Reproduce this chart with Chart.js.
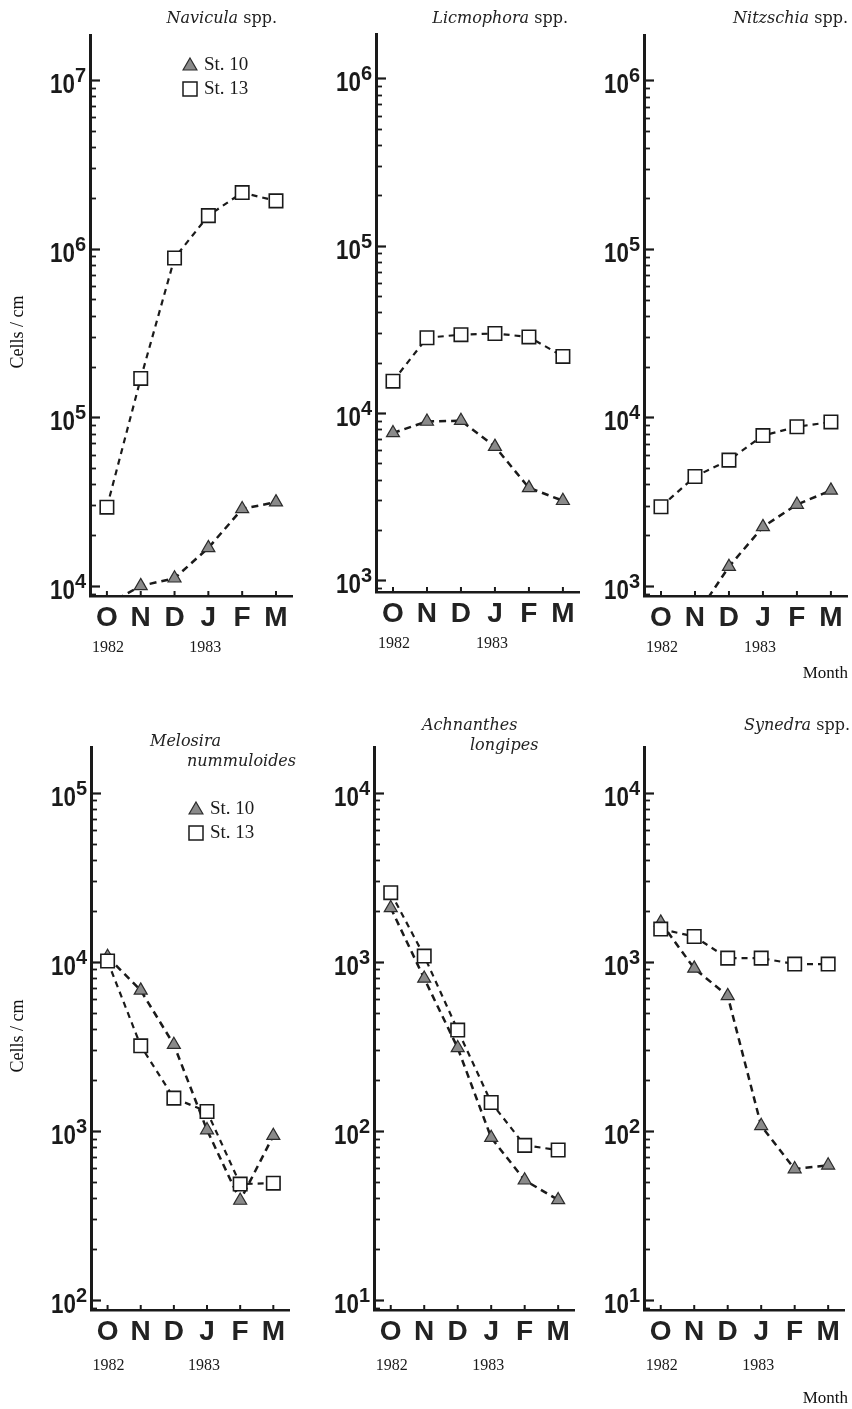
<!DOCTYPE html>
<html>
<head>
<meta charset="utf-8">
<script src="https://cdn.jsdelivr.net/npm/chart.js@4.4.1/dist/chart.umd.min.js"></script>
<style>
  body { margin: 0; background: #fff; width: 852px; height: 1409px; position: relative; overflow: hidden; }
  canvas { position: absolute; }
  .t { position: absolute; font-family: "DejaVu Serif", serif; font-size: 16px; line-height: 1; color: #222; white-space: nowrap; }
  .t i { font-style: italic; }
  .lab { position: absolute; font-family: "Liberation Serif", serif; font-size: 17px; line-height: 1; color: #111; white-space: nowrap; }
  .ylab { width: 120px; font-size: 18px; text-align: center; transform: rotate(-90deg); }
</style>
</head>
<body>
<canvas id="c1"></canvas>
<canvas id="c2"></canvas>
<canvas id="c3"></canvas>
<canvas id="c4"></canvas>
<canvas id="c5"></canvas>
<canvas id="c6"></canvas>

<div class="t" style="right:575px;top:10px"><i>Navicula</i> spp.</div>
<div class="t" style="right:284px;top:10px"><i>Licmophora</i> spp.</div>
<div class="t" style="right:4px;top:10px"><i>Nitzschia</i> spp.</div>
<div class="t" style="left:150px;top:733px"><i>Melosira</i></div>
<div class="t" style="left:187px;top:753px"><i>nummuloides</i></div>
<div class="t" style="left:422px;top:717px"><i>Achnanthes</i></div>
<div class="t" style="left:470px;top:737px"><i>longipes</i></div>
<div class="t" style="right:2px;top:717px"><i>Synedra</i> spp.</div>

<div class="lab ylab" style="left:-43px;top:323px">Cells / cm</div>
<div class="lab ylab" style="left:-43px;top:1027px">Cells / cm</div>
<div class="lab" style="right:4px;top:664px">Month</div>
<div class="lab" style="right:4px;top:1389px">Month</div>

<script>
  var months = ['O', 'N', 'D', 'J', 'F', 'M'];
  var years = ['1982', '1983'];
  var stations = ['St. 10', 'St. 13'];

  // cells / cm, Oct 1982 - Mar 1983
  var naviculaSt10 = [7700, 10000, 11100, 16800, 28600, 31400];
  var naviculaSt13 = [29300, 170000, 880000, 1570000, 2150000, 1920000];

  var licmophoraSt10 = [7600, 8900, 9000, 6300, 3570, 2990];
  var licmophoraSt13 = [15500, 28200, 29400, 29900, 28500, 21800];

  var nitzschiaSt10 = [null, 650, 1300, 2240, 3040, 3690];
  var nitzschiaSt13 = [2950, 4460, 5580, 7800, 8800, 9400];

  var melosiraSt10 = [10700, 6770, 3230, 1010, 387, 935];
  var melosiraSt13 = [10100, 3180, 1560, 1300, 484, 490];

  var achnanthesSt10 = [2080, 796, 309, 91, 51, 39];
  var achnanthesSt13 = [2560, 1080, 394, 147, 82, 77];

  var synedraSt10 = [1710, 913, 628, 107, 59.4, 62.5];
  var synedraSt13 = [1560, 1410, 1050, 1050, 968, 968];

  // log10 range of each panel's y axis
  var axisLow = [3.94, 2.93, 2.94, 1.94, 0.94, 0.94];
  var axisHigh = [7.267, 6.266, 6.27, 5.27, 4.27, 4.27];

  Chart.defaults.font.family = '"Liberation Sans", Arial, sans-serif';
  Chart.defaults.color = '#222';

  var rows = [
    { top: 0, height: 700, areaTop: 35, areaBottom: 596, yearOff: 52 },
    { top: 705, height: 704, areaTop: 747, areaBottom: 1310, yearOff: 56 }
  ];

  var panels = [
    { id: 'c1', row: 0, axisX: 90, plotW: 202, st10: naviculaSt10, st13: naviculaSt13, legend: { dx: 100, dy: 30 } },
    { id: 'c2', row: 0, axisX: 376, plotW: 203, st10: licmophoraSt10, st13: licmophoraSt13, areaTop: 34, areaBottom: 592 },
    { id: 'c3', row: 0, axisX: 644, plotW: 203, st10: nitzschiaSt10, st13: nitzschiaSt13 },
    { id: 'c4', row: 1, axisX: 91, plotW: 198, st10: melosiraSt10, st13: melosiraSt13, legend: { dx: 105, dy: 62 } },
    { id: 'c5', row: 1, axisX: 374, plotW: 200, st10: achnanthesSt10, st13: achnanthesSt13 },
    { id: 'c6', row: 1, axisX: 644, plotW: 200, st10: synedraSt10, st13: synedraSt13 }
  ];

  var INK = '#1a1a1a';
  var TRI_FILL = '#8a8a8a';

  function drawTriangle(ctx, x, y, r) {
    ctx.beginPath();
    ctx.moveTo(x, y - r);
    ctx.lineTo(x + r * 0.866, y + r * 0.5);
    ctx.lineTo(x - r * 0.866, y + r * 0.5);
    ctx.closePath();
    ctx.fillStyle = TRI_FILL;
    ctx.fill();
    ctx.lineWidth = 1.2;
    ctx.strokeStyle = '#2b2b2b';
    ctx.stroke();
  }

  // log ticks pointing inward, 10^n labels, month ticks, years and legend
  var decor = {
    id: 'decor',
    afterDraw: function (chart, args, opts) {
      var ctx = chart.ctx, a = chart.chartArea;
      var x = chart.scales.x, y = chart.scales.y;
      ctx.save();
      ctx.strokeStyle = INK;
      ctx.fillStyle = INK;

      var lo = Math.floor(Math.log10(y.min)), hi = Math.ceil(Math.log10(y.max));
      for (var e = lo; e <= hi; e++) {
        for (var k = 1; k <= 9; k++) {
          var v = k * Math.pow(10, e);
          if (v < y.min || v > y.max) continue;
          var py = Math.round(y.getPixelForValue(v)) + 0.5;
          ctx.lineWidth = k === 1 ? 2.2 : 1.8;
          ctx.beginPath();
          ctx.moveTo(a.left, py);
          ctx.lineTo(a.left + (k === 1 ? 10 : 6), py);
          ctx.stroke();
          if (k === 1) {
            ctx.save();
            ctx.translate(a.left - 15, py + 12);
            ctx.scale(0.8, 1);
            ctx.font = 'bold 28px "Liberation Sans"';
            ctx.textAlign = 'right';
            ctx.textBaseline = 'alphabetic';
            ctx.fillText('10', 0, 0);
            ctx.restore();
            ctx.font = 'bold 20px "Liberation Sans"';
            ctx.textAlign = 'left';
            ctx.textBaseline = 'alphabetic';
            ctx.fillText(String(e), a.left - 15, py + 1);
          }
        }
      }

      ctx.lineWidth = 2;
      for (var i = 0; i < months.length; i++) {
        var px = x.getPixelForValue(i);
        ctx.beginPath();
        ctx.moveTo(px, a.bottom);
        ctx.lineTo(px, a.bottom - 5);
        ctx.stroke();
      }

      ctx.font = '16px "Liberation Serif"';
      ctx.textAlign = 'center';
      ctx.textBaseline = 'middle';
      ctx.fillText(years[0], x.getPixelForValue(0) + 1, a.bottom + opts.yearOff);
      ctx.fillText(years[1], x.getPixelForValue(3) - 3, a.bottom + opts.yearOff);

      if (opts.legend) {
        var lx = a.left + opts.legend.dx, ly = a.top + opts.legend.dy;
        drawTriangle(ctx, lx, ly + 1, 8);
        ctx.fillStyle = '#fff';
        ctx.strokeStyle = INK;
        ctx.lineWidth = 1.5;
        ctx.fillRect(lx - 7, ly + 24 - 7, 14, 14);
        ctx.strokeRect(lx - 7, ly + 24 - 7, 14, 14);
        ctx.fillStyle = INK;
        ctx.font = '19px "Liberation Serif"';
        ctx.textAlign = 'left';
        ctx.textBaseline = 'middle';
        ctx.fillText(stations[0], lx + 14, ly);
        ctx.fillText(stations[1], lx + 14, ly + 24);
      }
      ctx.restore();
    }
  };

  panels.forEach(function (p, idx) {
    var row = rows[p.row];
    var areaTop = p.areaTop || row.areaTop;
    var areaBottom = p.areaBottom || row.areaBottom;
    var canvas = document.getElementById(p.id);
    // the layout keeps 8px on the right beyond the padding
    canvas.width = 86 + p.plotW + 4 + 8;
    canvas.height = row.height;
    canvas.style.left = (p.axisX - 86) + 'px';
    canvas.style.top = row.top + 'px';

    new Chart(canvas.getContext('2d'), {
      type: 'line',
      data: {
        labels: months,
        datasets: [{
          label: stations[0],
          data: p.st10,
          order: 2,
          borderColor: INK,
          borderWidth: 2.5,
          borderDash: [7, 5],
          tension: 0,
          fill: false,
          clip: 0,
          pointStyle: 'triangle',
          pointRadius: 7.5,
          pointBackgroundColor: TRI_FILL,
          pointBorderColor: '#2b2b2b',
          pointBorderWidth: 1.2
        }, {
          label: stations[1],
          data: p.st13,
          order: 1,
          borderColor: INK,
          borderWidth: 2.2,
          borderDash: [6, 5],
          tension: 0,
          fill: false,
          clip: 0,
          pointStyle: 'rect',
          pointRadius: 9.5,
          pointBackgroundColor: '#fff',
          pointBorderColor: INK,
          pointBorderWidth: 1.6
        }]
      },
      options: {
        responsive: false,
        animation: false,
        devicePixelRatio: 1,
        layout: {
          padding: {
            left: 86,
            right: 4,
            top: areaTop - row.top,
            bottom: row.top + row.height - areaBottom - 40
          }
        },
        scales: {
          x: {
            type: 'category',
            offset: true,
            grid: { display: false, drawTicks: false },
            border: { display: true, color: INK, width: 2.5 },
            ticks: {
              autoSkip: false,
              maxRotation: 0,
              padding: 5,
              color: '#222',
              font: { size: 28, weight: 'bold', family: '"Liberation Sans"' }
            },
            afterFit: function (s) {
              s.height = 40;
              s.paddingLeft = 0;
              s.paddingRight = 0;
            }
          },
          y: {
            type: 'logarithmic',
            min: Math.pow(10, axisLow[idx]),
            max: Math.pow(10, axisHigh[idx]),
            grid: { display: false, drawTicks: false },
            border: { display: true, color: INK, width: 3 },
            ticks: { display: false },
            afterFit: function (s) {
              s.width = 0;
              s.paddingTop = 0;
              s.paddingBottom = 0;
            }
          }
        },
        plugins: {
          legend: { display: false },
          tooltip: { enabled: false },
          decor: { yearOff: row.yearOff, legend: p.legend }
        }
      },
      plugins: [decor]
    });
  });
</script>
</body>
</html>
